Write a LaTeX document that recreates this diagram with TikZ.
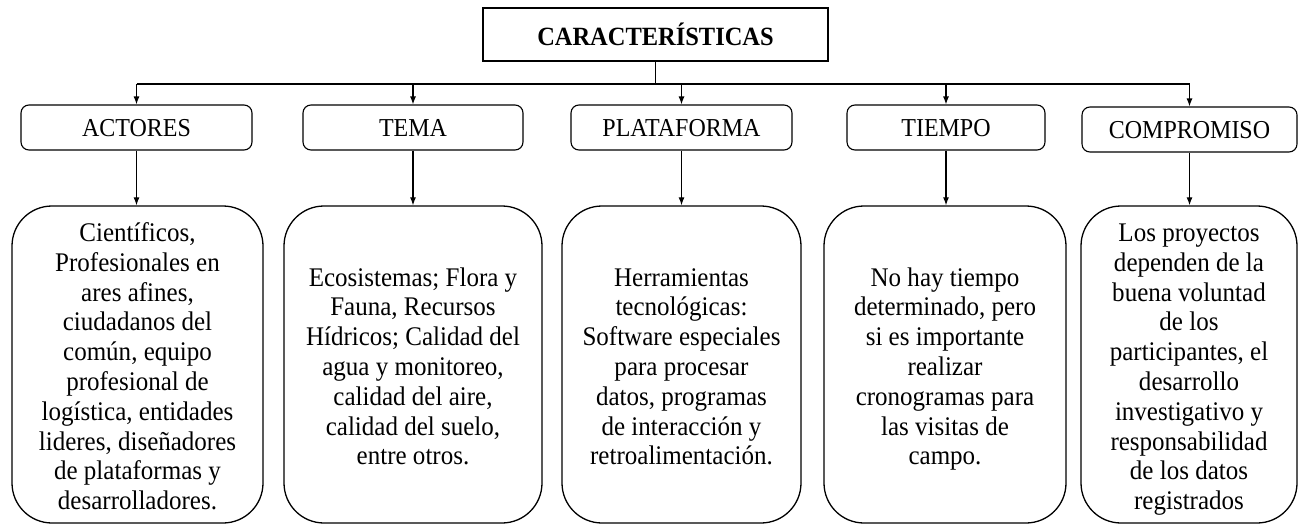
\documentclass[tikz,border=0pt]{standalone}
\usepackage{fontspec}
\setmainfont{Liberation Serif}[FakeStretch=0.93]
\usetikzlibrary{arrows.meta}
\newcommand{\lineas}[1]{\begin{tabular}{@{}c@{}}\rule{0pt}{31pt}#1\end{tabular}}

\begin{document}
\begin{tikzpicture}[x=1pt,y=-1pt,
    titulo/.style={draw,line width=1.8pt,minimum width=345pt,minimum height=53pt,font=\fontsize{26.3}{30}\selectfont\bfseries},
    rama/.style={draw,line width=1.1pt,rounded corners=8pt,minimum height=45pt,inner sep=0pt,text height=17pt,text depth=0pt,font=\fontsize{25.8}{30}\selectfont},
    detalle/.style={draw,line width=1.3pt,rounded corners=40pt,minimum height=317pt,inner sep=0pt,font=\fontsize{26.9}{29.8}\selectfont},
    flecha/.style={line width=1.2pt,-{Latex[length=8pt,width=6pt]}}]
        \useasboundingbox (0,0) rectangle (1301,525);
        % title
        \node[titulo] (carac) at (655.5,34.5) {CARACTERÍSTICAS};
        % branches
        \node[rama,minimum width=231pt] (actores) at (136.5,127.5) {ACTORES};
        \node[rama,minimum width=220pt] (tema) at (413,127.5) {TEMA};
        \node[rama,minimum width=221pt] (plataforma) at (681.5,127.5) {PLATAFORMA};
        \node[rama,minimum width=198pt] (tiempo) at (946,127.5) {TIEMPO};
        \node[rama,minimum width=215pt] (compromiso) at (1189.5,129.5) {COMPROMISO};
        % details
        \node[detalle,minimum width=251pt] (actdet) at (137.5,364.5) {\lineas{Científicos,\\Profesionales en\\ares afines,\\ciudadanos del\\común, equipo\\profesional de\\logística, entidades\\lideres, diseñadores\\de plataformas y\\desarrolladores.}};
        \node[detalle,minimum width=258pt] (temdet) at (413,364.5) {\lineas{Ecosistemas; Flora y\\Fauna, Recursos\\Hídricos; Calidad del\\agua y monitoreo,\\calidad del aire,\\calidad del suelo,\\entre otros.}};
        \node[detalle,minimum width=239pt] (platdet) at (681.5,364.5) {\lineas{Herramientas\\tecnológicas:\\Software especiales\\para procesar\\datos, programas\\de interacción y\\retroalimentación.}};
        \node[detalle,minimum width=242pt] (tiedet) at (945,364.5) {\lineas{No hay tiempo\\determinado, pero\\si es importante\\realizar\\cronogramas para\\las visitas de\\campo.}};
        \node[detalle,minimum width=216pt] (comdet) at (1189,364.5) {\lineas{Los proyectos\\dependen de la\\buena voluntad\\de los\\participantes, el\\desarrollo\\investigativo y\\responsabilidad\\de los datos\\registrados}};
        % connectors
        \coordinate (bus) at (655.5,84);
        \draw[line width=1.2pt] (carac.south) -- (bus);
        \draw[line width=1.2pt] (bus -| actores) -- (bus -| compromiso);
        \foreach \n in {actores,tema,plataforma,tiempo,compromiso}
            \draw[flecha] (bus -| \n) -- (\n);
        \foreach \a/\b in {actores/actdet,tema/temdet,plataforma/platdet,tiempo/tiedet,compromiso/comdet}
            \draw[flecha] (\a.south) -- (\a.south |- \b.north);
    \end{tikzpicture}
\end{document}
